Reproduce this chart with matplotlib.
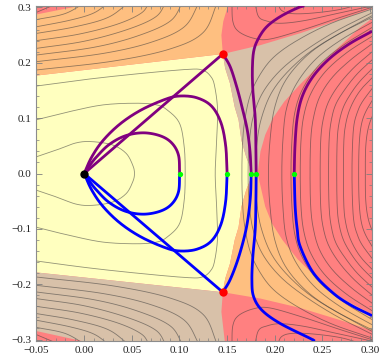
import numpy as np
import matplotlib
matplotlib.use("Agg")
import matplotlib.pyplot as plt
from matplotlib.ticker import MultipleLocator, FixedLocator, FixedFormatter

# ---------------- colours ----------------
C_YELLOW = "#FFFFBF"
C_ORANGE = "#FEBF80"
C_PINK = "#FF8080"
C_TAN = "#D8C1A9"
C_PURPLE = "#800080"
C_BLUE = "#0000FF"

# ---------------- axis data ----------------
x_ticks = [-0.05, 0.00, 0.05, 0.10, 0.15, 0.20, 0.25, 0.30]
x_tick_labels = ["\u22120.05", "0.00", "0.05", "0.10", "0.15", "0.20", "0.25", "0.30"]
y_ticks = [-0.3, -0.2, -0.1, 0.0, 0.1, 0.2, 0.3]
y_tick_labels = ["\u22120.3", "\u22120.2", "\u22120.1", "0.0", "0.1", "0.2", "0.3"]

# ---------------- region boundaries ----------------
region_yellow = [(-0.06, 0.175), (0.1455, 0.216), (0.148, 0.19), (0.153, 0.163), (0.158, 0.12),
                 (0.162, 0.097), (0.165, 0.06), (0.170, 0.03), (0.177, 0.0), (0.170, -0.03),
                 (0.165, -0.06), (0.162, -0.097), (0.158, -0.12), (0.153, -0.163), (0.148, -0.19),
                 (0.1455, -0.2145), (-0.06, -0.177)]
region_orange_top = [(-0.06, 0.175), (0.1455, 0.216), (0.144, 0.25), (0.146, 0.275), (0.152, 0.31),
                     (0.016, 0.31), (-0.06, 0.284)]
region_tan_top = [(0.1455, 0.216), (0.185, 0.232), (0.2267, 0.2535), (0.265, 0.276), (0.31, 0.303),
                  (0.31, 0.29), (0.29, 0.265), (0.268, 0.23), (0.245, 0.193), (0.226, 0.16),
                  (0.21, 0.13), (0.198, 0.1), (0.19, 0.07), (0.185, 0.04), (0.182, 0.0),
                  (0.177, 0.0), (0.170, 0.03), (0.165, 0.06), (0.162, 0.097), (0.158, 0.12),
                  (0.153, 0.163), (0.148, 0.19)]
region_tan_bottom = [(-0.06, -0.177), (0.1455, -0.2145), (0.144, -0.25), (0.146, -0.28), (0.148, -0.31),
                     (0.017, -0.31), (-0.06, -0.281)]
region_orange_bottom = [(0.1455, -0.2145), (0.185, -0.226), (0.2267, -0.243), (0.265, -0.263),
                        (0.31, -0.288), (0.31, -0.262), (0.27, -0.225), (0.245, -0.19),
                        (0.224, -0.155), (0.208, -0.12), (0.197, -0.09), (0.19, -0.06),
                        (0.186, -0.03), (0.182, 0.0), (0.177, 0.0), (0.170, -0.03), (0.165, -0.06),
                        (0.162, -0.097), (0.158, -0.12), (0.153, -0.163), (0.148, -0.19)]

# ---------------- contour lines ----------------
contour_lines = [
    # well
    [(-0.0504, 0.030), (-0.029, 0.0425), (-0.008, 0.0555), (0.009, 0.0575), (0.030, 0.0515),
     (0.044, 0.0365), (0.051, 0.015), (0.0528, 0.0), (0.051, -0.015), (0.044, -0.0365),
     (0.030, -0.0515), (0.009, -0.0575), (-0.008, -0.0555), (-0.029, -0.0425), (-0.0504, -0.030)],
    [(-0.0504, 0.097), (-0.015, 0.112), (0.020, 0.124), (0.055, 0.127), (0.076, 0.124), (0.087, 0.115),
     (0.100, 0.091), (0.105, 0.048), (0.106, 0.0), (0.105, -0.048), (0.100, -0.091), (0.087, -0.115),
     (0.076, -0.124), (0.055, -0.127), (0.020, -0.124), (-0.015, -0.112), (-0.0504, -0.097)],
    [(-0.0504, 0.158), (0.002, 0.170), (0.055, 0.180), (0.107, 0.188), (0.124, 0.187), (0.133, 0.175),
     (0.137, 0.157), (0.140, 0.115), (0.139, 0.060), (0.1375, 0.0), (0.139, -0.060), (0.140, -0.115),
     (0.137, -0.157), (0.133, -0.175), (0.124, -0.187), (0.107, -0.188), (0.055, -0.180),
     (0.002, -0.170), (-0.0504, -0.158)],
    # fan lines between the two exits
    [(0.305, 0.299), (0.26, 0.272), (0.225, 0.242), (0.2, 0.212), (0.185, 0.18), (0.174, 0.14),
     (0.168, 0.09), (0.166, 0.045), (0.1655, 0.0), (0.166, -0.045), (0.168, -0.09), (0.174, -0.14),
     (0.185, -0.18), (0.2, -0.212), (0.225, -0.242), (0.26, -0.272), (0.305, -0.299)],
    [(0.305, 0.293), (0.265, 0.258), (0.23, 0.22), (0.205, 0.185), (0.187, 0.145), (0.177, 0.1),
     (0.173, 0.05), (0.172, 0.0), (0.173, -0.05), (0.177, -0.1), (0.187, -0.145), (0.205, -0.185),
     (0.23, -0.22), (0.265, -0.258), (0.305, -0.293)],
    [(0.305, 0.288), (0.25, 0.235), (0.22, 0.195), (0.198, 0.15), (0.186, 0.1), (0.181, 0.05),
     (0.18, 0.0), (0.181, -0.05), (0.186, -0.1), (0.198, -0.15), (0.22, -0.195), (0.25, -0.235),
     (0.305, -0.288)],
    # right family
    [(0.305, 0.285), (0.265, 0.25), (0.235, 0.215), (0.212, 0.17), (0.2, 0.12), (0.195, 0.06),
     (0.1934, 0.0), (0.195, -0.06), (0.2, -0.12), (0.212, -0.17), (0.235, -0.215), (0.265, -0.25),
     (0.305, -0.285)],
    [(0.305, 0.276), (0.27, 0.242), (0.242, 0.205), (0.222, 0.16), (0.212, 0.115), (0.2085, 0.06),
     (0.2074, 0.0), (0.2085, -0.06), (0.212, -0.115), (0.222, -0.16), (0.242, -0.205), (0.27, -0.242),
     (0.305, -0.276)],
    [(0.305, 0.267), (0.272, 0.232), (0.246, 0.195), (0.229, 0.152), (0.221, 0.11), (0.218, 0.06),
     (0.217, 0.0), (0.218, -0.06), (0.221, -0.11), (0.229, -0.152), (0.246, -0.195), (0.272, -0.232),
     (0.305, -0.267)],
    [(0.305, 0.251), (0.276, 0.219), (0.253, 0.184), (0.238, 0.145), (0.2305, 0.105), (0.2275, 0.06),
     (0.2267, 0.0), (0.2275, -0.06), (0.2305, -0.105), (0.238, -0.145), (0.253, -0.184),
     (0.276, -0.219), (0.305, -0.251)],
    [(0.305, 0.238), (0.28, 0.206), (0.26, 0.173), (0.247, 0.138), (0.2405, 0.1), (0.2377, 0.06),
     (0.237, 0.0), (0.2377, -0.06), (0.2405, -0.1), (0.247, -0.138), (0.26, -0.173), (0.28, -0.206),
     (0.305, -0.238)],
    [(0.305, 0.224), (0.284, 0.193), (0.268, 0.162), (0.2565, 0.13), (0.2507, 0.097), (0.2482, 0.06),
     (0.2476, 0.0), (0.2482, -0.06), (0.2507, -0.097), (0.2565, -0.13), (0.268, -0.162),
     (0.284, -0.193), (0.305, -0.224)],
    [(0.305, 0.21), (0.287, 0.181), (0.274, 0.153), (0.264, 0.125), (0.2592, 0.095), (0.257, 0.06),
     (0.2564, 0.0), (0.257, -0.06), (0.2592, -0.095), (0.264, -0.125), (0.274, -0.153),
     (0.287, -0.181), (0.305, -0.21)],
    [(0.305, 0.194), (0.29, 0.168), (0.28, 0.145), (0.272, 0.12), (0.2675, 0.092), (0.2655, 0.06),
     (0.265, 0.0), (0.2655, -0.06), (0.2675, -0.092), (0.272, -0.12), (0.28, -0.145), (0.29, -0.168),
     (0.305, -0.194)],
    [(0.305, 0.178), (0.293, 0.157), (0.285, 0.138), (0.2785, 0.115), (0.2745, 0.09), (0.2725, 0.06),
     (0.272, 0.0), (0.2725, -0.06), (0.2745, -0.09), (0.2785, -0.115), (0.285, -0.138),
     (0.293, -0.157), (0.305, -0.178)],
    [(0.305, 0.16), (0.292, 0.13), (0.2865, 0.11), (0.283, 0.087), (0.2815, 0.05), (0.281, 0.0),
     (0.2815, -0.05), (0.283, -0.087), (0.2865, -0.11), (0.292, -0.13), (0.305, -0.16)],
    [(0.305, 0.14), (0.295, 0.11), (0.2905, 0.085), (0.2885, 0.05), (0.288, 0.0), (0.2885, -0.05),
     (0.2905, -0.085), (0.295, -0.11), (0.305, -0.14)],
    [(0.305, 0.115), (0.2985, 0.085), (0.2955, 0.05), (0.295, 0.0), (0.2955, -0.05), (0.2985, -0.085),
     (0.305, -0.115)],
    # upper-left slope
    [(-0.0504, 0.187), (0.03, 0.203), (0.09, 0.225), (0.125, 0.255), (0.14, 0.31)],
    [(-0.0504, 0.202), (0.02, 0.217), (0.07, 0.237), (0.105, 0.265), (0.121, 0.31)],
    [(-0.0504, 0.214), (0.01, 0.228), (0.055, 0.248), (0.09, 0.275), (0.1036, 0.31)],
    [(-0.0504, 0.226), (0.0, 0.239), (0.045, 0.26), (0.075, 0.283), (0.086, 0.31)],
    [(-0.0504, 0.240), (-0.005, 0.252), (0.035, 0.27), (0.06, 0.29), (0.0685, 0.31)],
    [(-0.0504, 0.253), (-0.01, 0.265), (0.025, 0.282), (0.0475, 0.31)],
    [(-0.0504, 0.265), (-0.015, 0.277), (0.01, 0.29), (0.0265, 0.31)],
    [(-0.0504, 0.278), (-0.02, 0.289), (0.002, 0.31)],
    [(-0.0504, 0.291), (-0.024, 0.31)],
    # lower-left slope
    [(-0.0504, -0.187), (0.03, -0.203), (0.09, -0.225), (0.125, -0.255), (0.14, -0.31)],
    [(-0.0504, -0.202), (0.02, -0.217), (0.07, -0.237), (0.105, -0.265), (0.121, -0.31)],
    [(-0.0504, -0.214), (0.01, -0.228), (0.055, -0.248), (0.09, -0.275), (0.1036, -0.31)],
    [(-0.0504, -0.226), (0.0, -0.239), (0.045, -0.26), (0.075, -0.283), (0.086, -0.31)],
    [(-0.0504, -0.240), (-0.005, -0.252), (0.035, -0.27), (0.06, -0.29), (0.0685, -0.31)],
    [(-0.0504, -0.253), (-0.01, -0.265), (0.025, -0.282), (0.0475, -0.31)],
    [(-0.0504, -0.265), (-0.015, -0.277), (0.01, -0.29), (0.0265, -0.31)],
    [(-0.0504, -0.278), (-0.02, -0.289), (0.002, -0.31)],
    [(-0.0504, -0.291), (-0.024, -0.31)],
    # upper exit valley
    [(0.155, 0.31), (0.156, 0.275), (0.162, 0.2567), (0.1777, 0.2445), (0.195, 0.243), (0.23, 0.26),
     (0.265, 0.28), (0.305, 0.302)],
    [(0.179, 0.31), (0.183, 0.2836), (0.1917, 0.2755), (0.2057, 0.2715), (0.23, 0.276), (0.265, 0.289),
     (0.305, 0.304)],
    [(0.203, 0.31), (0.207, 0.295), (0.218, 0.289), (0.24, 0.29), (0.27, 0.297), (0.295, 0.31)],
    # lower exit valley
    [(0.155, -0.31), (0.156, -0.275), (0.162, -0.2567), (0.1777, -0.2445), (0.195, -0.243), (0.23, -0.26),
     (0.265, -0.28), (0.305, -0.302)],
    [(0.179, -0.31), (0.183, -0.2836), (0.1917, -0.2755), (0.2057, -0.2715), (0.23, -0.276),
     (0.265, -0.289), (0.305, -0.304)],
    [(0.203, -0.31), (0.207, -0.295), (0.218, -0.289), (0.24, -0.29), (0.27, -0.297), (0.295, -0.31)],
]

# ---------------- trajectories ----------------
purple_small = [(0.1002, 0.0), (0.099, 0.033), (0.092, 0.055), (0.08, 0.068), (0.062, 0.0735),
                (0.043, 0.068), (0.026, 0.052), (0.013, 0.03), (0.006, 0.015), (0.0, 0.0)]
purple_big = [(0.150, 0.0), (0.1485, 0.05), (0.1435, 0.092), (0.1335, 0.122), (0.118, 0.137),
              (0.1, 0.14), (0.085, 0.134), (0.06, 0.115), (0.038, 0.09), (0.02, 0.06), (0.008, 0.03),
              (0.0, 0.0)]
purple_ray = [(0.0, 0.0), (0.1455, 0.216)]
purple_sep = [(0.1455, 0.216), (0.1532, 0.193), (0.160, 0.157), (0.1655, 0.121), (0.171, 0.08),
              (0.174, 0.04), (0.1752, 0.0)]
purple_esc1 = [(0.1805, 0.0), (0.1802, 0.05), (0.1795, 0.1), (0.177, 0.15), (0.1765, 0.19),
               (0.178, 0.222), (0.183, 0.2445), (0.1917, 0.2655), (0.2057, 0.2835), (0.2232, 0.2987),
               (0.231, 0.303)]
purple_esc2 = [(0.2204, 0.0), (0.2212, 0.05), (0.2235, 0.1), (0.229, 0.14), (0.24, 0.175),
               (0.257, 0.207), (0.278, 0.234), (0.302, 0.257)]

blue_small = [(0.1002, 0.0), (0.099, -0.033), (0.092, -0.055), (0.08, -0.068), (0.062, -0.0735),
              (0.043, -0.068), (0.026, -0.052), (0.013, -0.03), (0.006, -0.015), (0.0, 0.0)]
blue_big = [(0.150, 0.0), (0.1485, -0.05), (0.1435, -0.092), (0.1335, -0.122), (0.118, -0.137),
            (0.1, -0.14), (0.085, -0.134), (0.06, -0.115), (0.038, -0.09), (0.02, -0.06), (0.008, -0.03),
            (0.0, 0.0)]
blue_ray = [(0.0, 0.0), (0.1455, -0.2145)]
blue_sep = [(0.1455, -0.2145), (0.153, -0.1925), (0.161, -0.157), (0.168, -0.115), (0.172, -0.08),
            (0.1745, -0.04), (0.1752, 0.0)]
blue_esc1 = [(0.1805, 0.0), (0.1802, -0.05), (0.1795, -0.1), (0.177, -0.15), (0.176, -0.192),
             (0.1777, -0.222), (0.1865, -0.247), (0.2057, -0.271), (0.2371, -0.298), (0.242, -0.303)]
blue_esc2 = [(0.2204, 0.0), (0.2214, -0.06), (0.2235, -0.1), (0.2267, -0.132), (0.2406, -0.18),
             (0.2616, -0.2166), (0.28, -0.238), (0.302, -0.257)]

# ---------------- equilibria and start points ----------------
saddle_x = [0.1455, 0.1455]
saddle_y = [0.216, -0.2145]
minimum_x = [0.0]
minimum_y = [0.0]
start_x = [0.1002, 0.150, 0.1752, 0.1805, 0.2204]
start_y = [0.0, 0.0, 0.0, 0.0, 0.0]


def smooth(pts, n=14):
    """Catmull-Rom through the read points, for drawing only."""
    p = np.asarray(pts, float)
    if len(p) < 3:
        return p
    ext = np.vstack([2 * p[0] - p[1], p, 2 * p[-1] - p[-2]])
    t = np.linspace(0, 1, n, endpoint=False)[:, None]
    out = []
    for i in range(1, len(ext) - 2):
        p0, p1, p2, p3 = ext[i - 1], ext[i], ext[i + 1], ext[i + 2]
        out.append(0.5 * (2 * p1 + (-p0 + p2) * t + (2 * p0 - 5 * p1 + 4 * p2 - p3) * t ** 2
                          + (-p0 + 3 * p1 - 3 * p2 + p3) * t ** 3))
    out.append(p[-1:])
    return np.vstack(out)


fig = plt.figure(figsize=(3.82, 3.63), dpi=100)
ax = fig.add_axes([36 / 382, 22 / 363, 336 / 382, 335 / 363])
ax.set_xlim(-0.0505, 0.302)
ax.set_ylim(-0.3027, 0.3027)
ax.set_facecolor(C_PINK)

for poly, col in [(region_yellow, C_YELLOW), (region_orange_top, C_ORANGE), (region_tan_top, C_TAN),
                  (region_tan_bottom, C_TAN), (region_orange_bottom, C_ORANGE)]:
    pa = np.asarray(poly)
    ax.fill(pa[:, 0], pa[:, 1], color=col, lw=0, zorder=0)

for line in contour_lines:
    s = smooth(line)
    ax.plot(s[:, 0], s[:, 1], color="#3a3a3a", lw=0.6, alpha=0.55, zorder=1)

for tr in [purple_small, purple_big, purple_ray, purple_sep, purple_esc1, purple_esc2]:
    s = smooth(tr)
    ax.plot(s[:, 0], s[:, 1], color=C_PURPLE, lw=2.0, zorder=3, solid_capstyle="butt")
for tr in [blue_small, blue_big, blue_ray, blue_sep, blue_esc1, blue_esc2]:
    s = smooth(tr)
    ax.plot(s[:, 0], s[:, 1], color=C_BLUE, lw=2.0, zorder=3, solid_capstyle="butt")

ax.plot(saddle_x, saddle_y, "o", color="#FF0000", ms=6, mec="none", zorder=5)
ax.plot(minimum_x, minimum_y, "o", color="black", ms=6, mec="none", zorder=5)
ax.plot(start_x, start_y, "o", color="#00FF00", ms=3.8, mec="none", zorder=5)

ax.xaxis.set_major_locator(FixedLocator(x_ticks))
ax.xaxis.set_major_formatter(FixedFormatter(x_tick_labels))
ax.yaxis.set_major_locator(FixedLocator(y_ticks))
ax.yaxis.set_major_formatter(FixedFormatter(y_tick_labels))
ax.xaxis.set_minor_locator(MultipleLocator(0.01))
ax.yaxis.set_minor_locator(MultipleLocator(0.02))
ax.tick_params(which="both", direction="in", top=True, right=True, colors="#7f7f7f",
               labelcolor="#222222", labelsize=8)
ax.tick_params(which="major", length=4, width=0.6)
ax.tick_params(which="minor", length=2, width=0.5)
for lab in ax.get_xticklabels() + ax.get_yticklabels():
    lab.set_fontfamily(["Liberation Serif", "DejaVu Serif"])
for sp in ax.spines.values():
    sp.set_color("#8c8c8c")
    sp.set_linewidth(0.8)

fig.savefig("out.png", dpi=100)
